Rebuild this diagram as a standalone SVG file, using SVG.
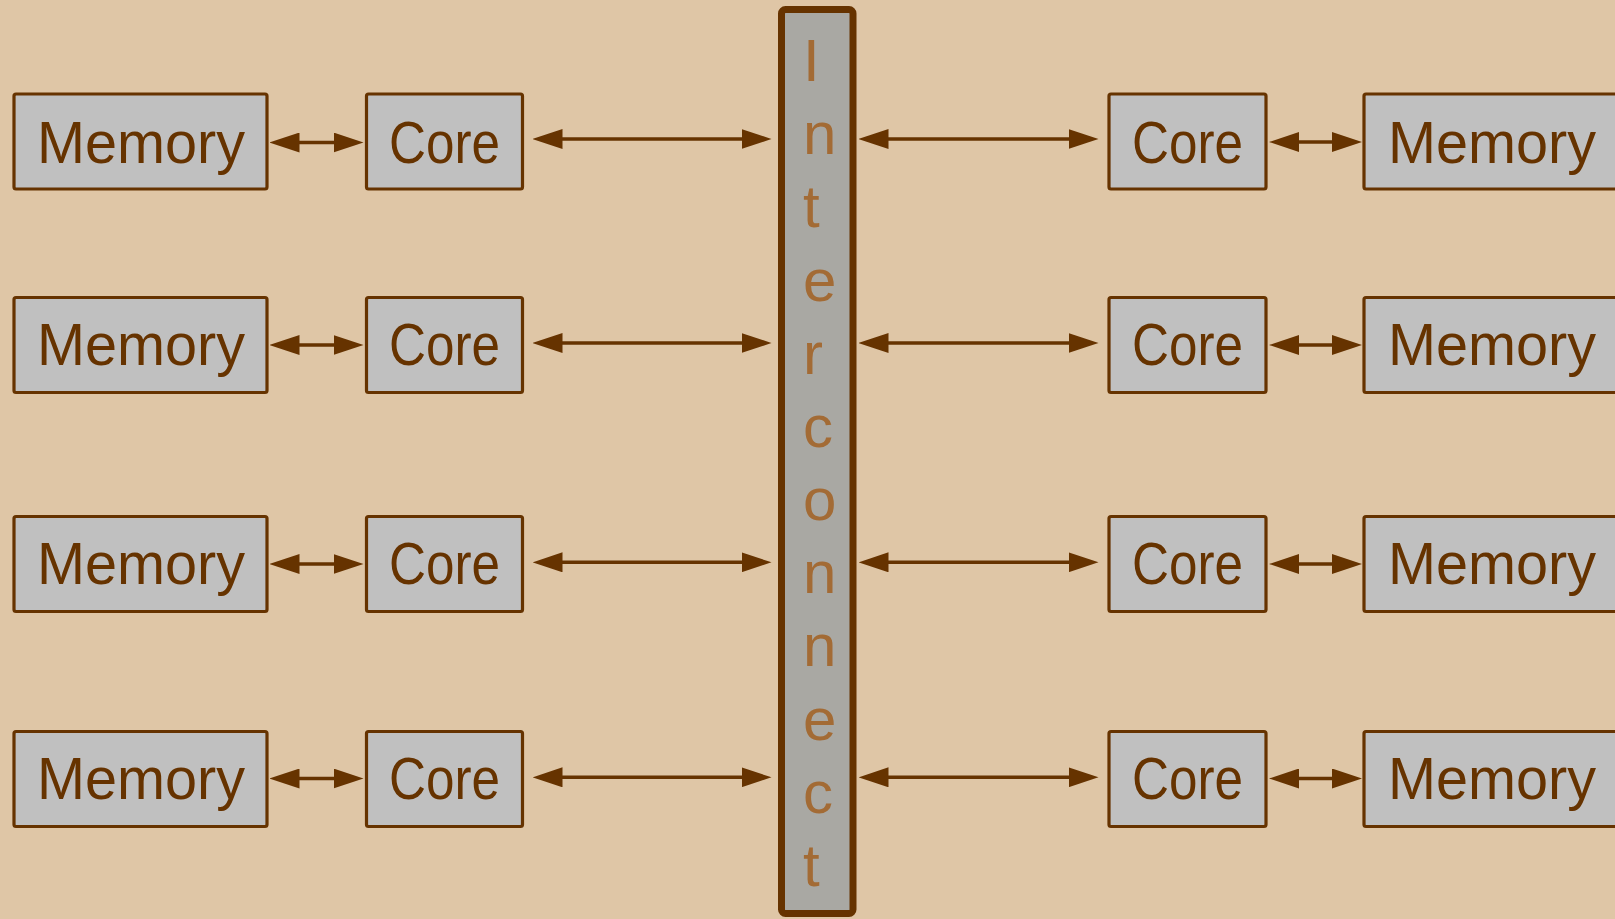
<svg xmlns="http://www.w3.org/2000/svg" width="1615" height="919" viewBox="0 0 1615 919">
<style>
.box{fill:#c0c0c0;stroke:#663300;stroke-width:3.2;}
.lbl{font-family:"Liberation Sans",Arial,sans-serif;font-size:59px;fill:#663300;text-anchor:middle;}
.ic{font-family:"Liberation Sans",Arial,sans-serif;font-size:60px;fill:#a36b35;}
.arr{stroke:#663300;stroke-width:3.5;fill:none;marker-start:url(#ah);marker-end:url(#ah);}
</style>
<defs>
<marker id="ah" viewBox="0 0 30 20" markerWidth="30" markerHeight="20" markerUnits="userSpaceOnUse" refX="0.5" refY="10" orient="auto-start-reverse">
<path d="M0,0 L30,10 L0,20 z" fill="#663300"/>
</marker>
</defs>
<rect width="1615" height="919" fill="#dfc6a6"/>

<g id="interconnect">
<rect x="781.5" y="9.5" width="71.5" height="904" rx="4" fill="#a9a8a3" stroke="#663300" stroke-width="7"/>
<text class="ic" x="803"><tspan x="803" y="81">I</tspan><tspan x="803" y="154.2">n</tspan><tspan x="803" y="227.4">t</tspan><tspan x="803" y="300.5">e</tspan><tspan x="803" y="373.7">r</tspan><tspan x="803" y="446.9">c</tspan><tspan x="803" y="520.1">o</tspan><tspan x="803" y="593.3">n</tspan><tspan x="803" y="666.4">n</tspan><tspan x="803" y="739.6">e</tspan><tspan x="803" y="812.8">c</tspan><tspan x="803" y="886">t</tspan></text>
</g>

<g id="mem-l1"><rect class="box" x="14" y="94" width="253" height="95" rx="2"/><text class="lbl" x="141" y="163" textLength="208" lengthAdjust="spacingAndGlyphs">Memory</text></g>
<g id="core-l1"><rect class="box" x="366.5" y="94" width="156" height="95" rx="2"/><text class="lbl" x="444.5" y="163" textLength="111" lengthAdjust="spacingAndGlyphs">Core</text></g>
<g id="core-r1"><rect class="box" x="1109" y="94" width="157" height="95" rx="2"/><text class="lbl" x="1187.5" y="163" textLength="111" lengthAdjust="spacingAndGlyphs">Core</text></g>
<g id="mem-r1"><rect class="box" x="1364" y="94" width="253" height="95" rx="2"/><text class="lbl" x="1492" y="163" textLength="208" lengthAdjust="spacingAndGlyphs">Memory</text></g>

<g id="mem-l2"><rect class="box" x="14" y="297.5" width="253" height="95" rx="2"/><text class="lbl" x="141" y="365" textLength="208" lengthAdjust="spacingAndGlyphs">Memory</text></g>
<g id="core-l2"><rect class="box" x="366.5" y="297.5" width="156" height="95" rx="2"/><text class="lbl" x="444.5" y="365" textLength="111" lengthAdjust="spacingAndGlyphs">Core</text></g>
<g id="core-r2"><rect class="box" x="1109" y="297.5" width="157" height="95" rx="2"/><text class="lbl" x="1187.5" y="365" textLength="111" lengthAdjust="spacingAndGlyphs">Core</text></g>
<g id="mem-r2"><rect class="box" x="1364" y="297.5" width="253" height="95" rx="2"/><text class="lbl" x="1492" y="365" textLength="208" lengthAdjust="spacingAndGlyphs">Memory</text></g>

<g id="mem-l3"><rect class="box" x="14" y="516.5" width="253" height="95" rx="2"/><text class="lbl" x="141" y="584" textLength="208" lengthAdjust="spacingAndGlyphs">Memory</text></g>
<g id="core-l3"><rect class="box" x="366.5" y="516.5" width="156" height="95" rx="2"/><text class="lbl" x="444.5" y="584" textLength="111" lengthAdjust="spacingAndGlyphs">Core</text></g>
<g id="core-r3"><rect class="box" x="1109" y="516.5" width="157" height="95" rx="2"/><text class="lbl" x="1187.5" y="584" textLength="111" lengthAdjust="spacingAndGlyphs">Core</text></g>
<g id="mem-r3"><rect class="box" x="1364" y="516.5" width="253" height="95" rx="2"/><text class="lbl" x="1492" y="584" textLength="208" lengthAdjust="spacingAndGlyphs">Memory</text></g>

<g id="mem-l4"><rect class="box" x="14" y="731.5" width="253" height="95" rx="2"/><text class="lbl" x="141" y="799" textLength="208" lengthAdjust="spacingAndGlyphs">Memory</text></g>
<g id="core-l4"><rect class="box" x="366.5" y="731.5" width="156" height="95" rx="2"/><text class="lbl" x="444.5" y="799" textLength="111" lengthAdjust="spacingAndGlyphs">Core</text></g>
<g id="core-r4"><rect class="box" x="1109" y="731.5" width="157" height="95" rx="2"/><text class="lbl" x="1187.5" y="799" textLength="111" lengthAdjust="spacingAndGlyphs">Core</text></g>
<g id="mem-r4"><rect class="box" x="1364" y="731.5" width="253" height="95" rx="2"/><text class="lbl" x="1492" y="799" textLength="208" lengthAdjust="spacingAndGlyphs">Memory</text></g>

<g id="connectors">
<line class="arr" x1="299" y1="142.5" x2="334" y2="142.5"/>
<line class="arr" x1="562" y1="139" x2="742" y2="139"/>
<line class="arr" x1="888" y1="139" x2="1069" y2="139"/>
<line class="arr" x1="1298.5" y1="142" x2="1332.5" y2="142"/>

<line class="arr" x1="299" y1="345" x2="334" y2="345"/>
<line class="arr" x1="562" y1="343" x2="742" y2="343"/>
<line class="arr" x1="888" y1="343" x2="1069" y2="343"/>
<line class="arr" x1="1298.5" y1="345" x2="1332.5" y2="345"/>

<line class="arr" x1="299" y1="564" x2="334" y2="564"/>
<line class="arr" x1="562" y1="562.3" x2="742" y2="562.3"/>
<line class="arr" x1="888" y1="562.3" x2="1069" y2="562.3"/>
<line class="arr" x1="1298.5" y1="564" x2="1332.5" y2="564"/>

<line class="arr" x1="299" y1="778.5" x2="334" y2="778.5"/>
<line class="arr" x1="562" y1="777.3" x2="742" y2="777.3"/>
<line class="arr" x1="888" y1="777.3" x2="1069" y2="777.3"/>
<line class="arr" x1="1298.5" y1="778.5" x2="1332.5" y2="778.5"/>
</g>
</svg>
